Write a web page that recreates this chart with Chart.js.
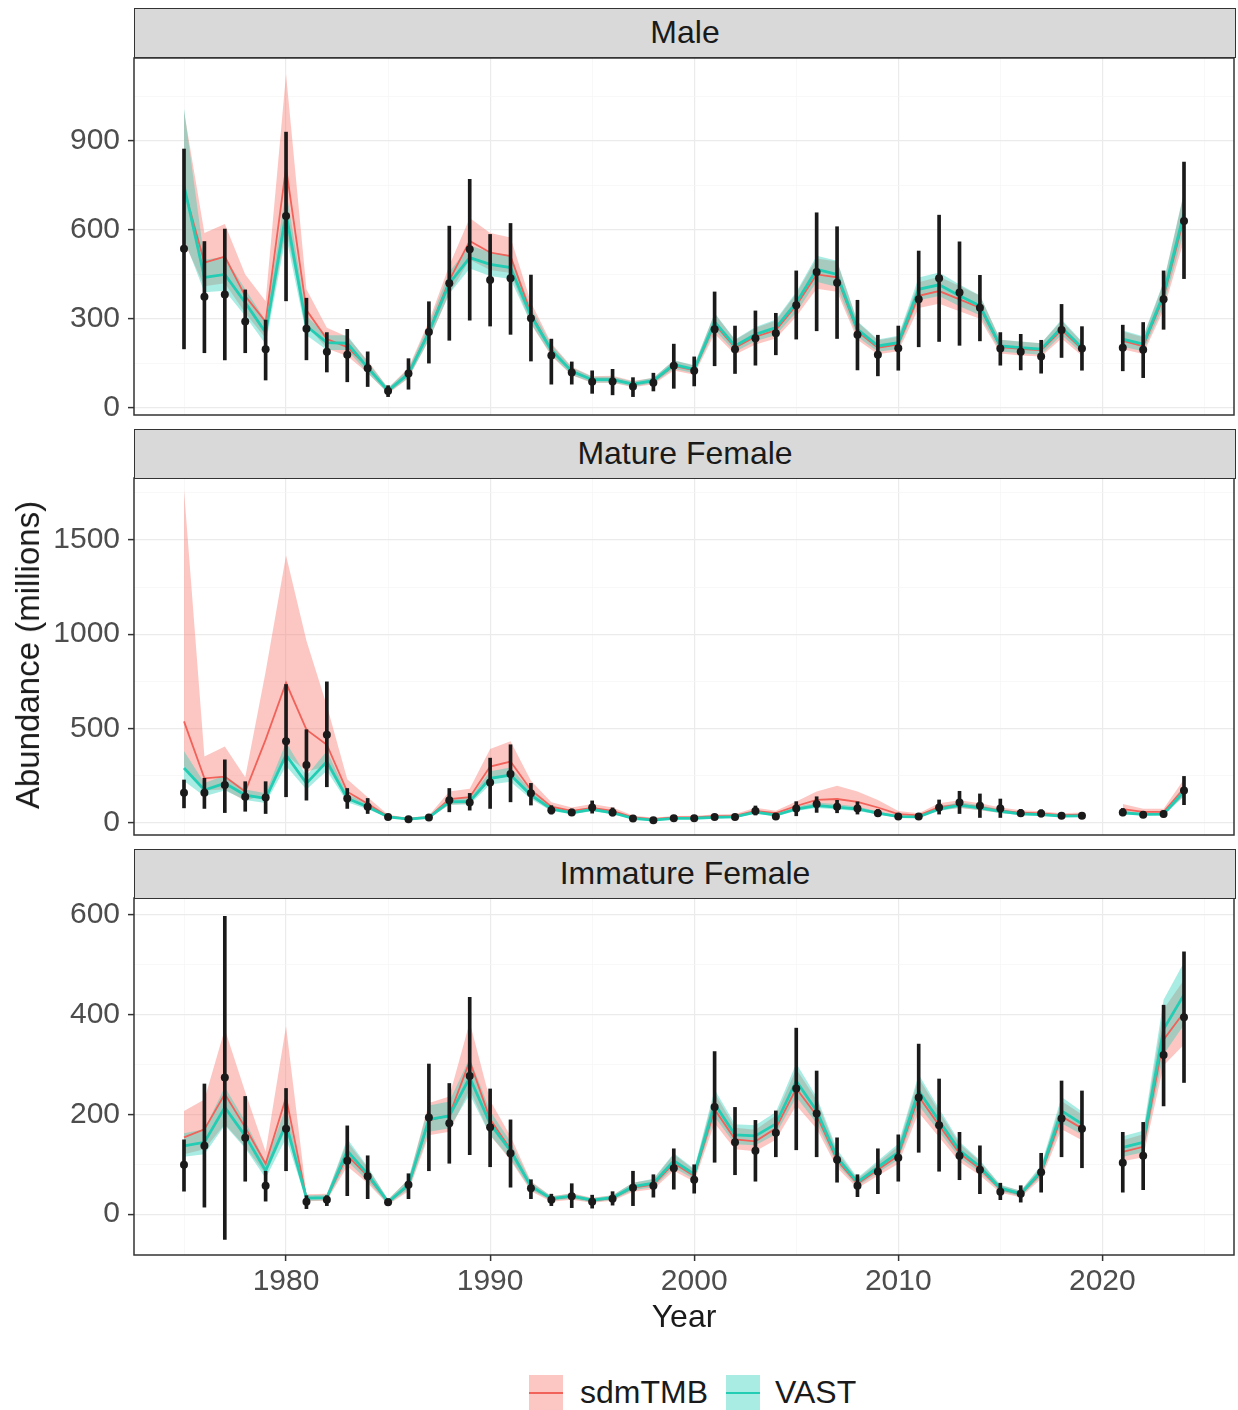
<!DOCTYPE html>
<html>
<head>
<meta charset="utf-8">
<script src="https://cdn.jsdelivr.net/npm/chart.js@4/dist/chart.umd.min.js"></script>
<style>
  html, body { margin: 0; padding: 0; background: #fff; }
  body { width: 1238px; height: 1410px; position: relative; overflow: hidden;
         font-family: "Liberation Sans", Arial, sans-serif; }
  canvas { position: absolute; left: 0; }
  .strip { position: absolute; left: 134px; width: 1102px; height: 50px; box-sizing: border-box;
           background: #D9D9D9; border: 1.5px solid #333; color: #1A1A1A; font-size: 32px;
           text-align: center; line-height: 47px; }
  .ytitle { position: absolute; left: 28px; top: 655px; transform: translate(-50%, -50%) rotate(-90deg);
            font-size: 33px; color: #1A1A1A; white-space: nowrap; }
  .key { position: absolute; top: 1375px; width: 34px; height: 36px; }
  .key i { position: absolute; left: 0; right: 0; top: 17px; height: 2px; }
  .ltxt { position: absolute; top: 1373px; font-size: 32px; color: #1A1A1A; line-height: 38px; }
</style>
</head>
<body>
<canvas id="c1" width="1238" height="407" style="top:33px"></canvas>
<canvas id="c2" width="1238" height="407" style="top:453px"></canvas>
<canvas id="c3" width="1238" height="472" style="top:873px"></canvas>

<div class="strip" style="top:8px">Male</div>
<div class="strip" style="top:429px">Mature Female</div>
<div class="strip" style="top:849px">Immature Female</div>
<div class="ytitle">Abundance (millions)</div>

<div class="key" style="left:529px;background:rgba(248,118,109,0.42)"><i style="background:#F0625A"></i></div>
<div class="ltxt" style="left:580px">sdmTMB</div>
<div class="key" style="left:726px;background:rgba(40,208,185,0.40)"><i style="background:#22CDB4"></i></div>
<div class="ltxt" style="left:775px">VAST</div>

<script>
// ---------------- DATA ----------------
const years = [1975,1976,1977,1978,1979,1980,1981,1982,1983,1984,
               1985,1986,1987,1988,1989,1990,1991,1992,1993,1994,
               1995,1996,1997,1998,1999,2000,2001,2002,2003,2004,
               2005,2006,2007,2008,2009,2010,2011,2012,2013,2014,
               2015,2016,2017,2018,2019,2020,2021,2022,2023,2024];

const xMajorTicks = [1980,1990,2000,2010,2020];
const xMinorTicks = [1975,1985,1995,2005,2015,2025];

// Male
const maleObs   = [537,375,382,291,198,647,267,189,179,134, 57,116,256,420,535,431,437,302,177,119, 88,89,72,85,142,125,265,198,235,252, 346,458,422,247,179,201,366,437,389,338, 200,189,173,263,200,null,203,196,366,630];
const maleObsLo = [199,186,162,186,94,361,162,121,88,72, 38,63,151,228,296,276,248,158,80,80, 49,44,38,57,66,74,142,116,144,179, 232,260,234,128,108,127,206,224,211,226, 144,128,117,170,127,null,125,102,265,436];
const maleObsHi = [873,561,603,398,296,930,370,254,265,189, 75,166,358,613,771,585,622,448,232,155, 125,130,102,117,215,172,391,276,327,319, 462,658,611,363,245,276,529,650,560,447, 254,248,228,349,274,null,279,288,462,829];
const maleVast   = [750,440,450,355,254,655,276,220,218,136, 58,115,255,420,507,484,473,310,195,123, 95,95,80,92,146,130,290,209,248,271, 355,467,450,265,209,220,400,415,378,344, 209,203,198,271,203,null,232,215,383,658];
const maleVastLo = [570,390,395,310,215,580,245,195,195,118, 50,102,230,385,470,445,435,285,178,111, 86,86,72,83,132,117,263,189,225,246, 322,425,408,240,189,199,363,377,343,312, 190,184,179,246,184,null,206,191,345,595];
const maleVastHi = [1010,500,510,400,295,735,310,245,245,155, 67,130,282,458,548,525,515,338,213,136, 105,105,89,102,161,144,320,231,273,298, 391,513,496,292,231,243,440,457,416,379, 230,224,218,298,224,null,261,242,425,727];
const maleSdm   = [740,490,510,377,290,810,330,232,205,138, 57,117,258,430,563,524,512,318,195,124, 95,96,80,90,142,127,282,203,240,262, 345,450,440,258,203,214,378,394,366,338, 205,199,194,262,198,null,226,208,373,640];
const maleSdmLo = [560,410,420,320,235,600,280,200,175,118, 48,100,228,385,500,465,455,283,175,110, 84,85,70,80,126,112,250,180,214,234, 308,402,392,230,181,191,337,351,326,301, 183,177,173,234,176,null,198,182,330,565];
const maleSdmHi = [1000,590,620,450,360,1125,400,270,240,160, 67,135,292,480,640,590,575,355,218,139, 107,108,91,102,160,143,318,229,269,294, 386,504,494,290,228,240,424,442,411,379, 230,223,218,294,222,null,258,238,422,725];
const maleMajorTicks = [0,300,600,900];
const maleMinorTicks = [150,450,750,1050];

// Mature Female
const matObs   = [158,158,199,137,133,431,306,466,128,84, 30,18,27,119,107,213,258,155,65,54, 80,54,21,12,23,23,29,29,62,32, 75,98,84,75,50,32,32,80,107,89, 75,50,48,36,36,null,54,41,45,170];
const matObsLo = [78,75,53,60,48,137,119,190,75,48, 22,12,20,57,66,75,110,93,45,38, 50,35,15,8,16,16,20,20,40,22, 36,54,52,45,32,20,22,45,48,27, 27,32,30,24,24,null,36,27,30,95];
const matObsHi = [226,235,333,217,217,733,493,747,181,128, 40,25,35,181,155,342,413,208,90,72, 115,78,28,17,31,31,38,38,88,43, 111,137,118,110,70,45,44,120,166,152, 125,70,68,50,50,null,75,57,62,245];
const matSdm   = [537,235,244,164,440,742,493,413,164,100, 32,19,28,125,135,297,324,173,84,62, 78,62,28,18,27,28,34,36,62,50, 88,120,125,110,80,45,38,82,95,82, 64,52,48,40,42,null,71,57,57,180];
const matSdmLo = [300,170,175,115,150,360,270,300,125,75, 25,14,21,95,100,225,250,135,65,48, 62,48,21,13,21,22,27,28,50,40, 70,90,90,80,55,33,29,66,77,66, 51,41,38,32,33,null,55,44,44,140];
const matSdmHi = [1765,351,404,240,800,1418,965,620,230,135, 42,26,37,165,180,390,431,222,108,80, 98,80,37,25,35,36,43,46,78,63, 112,165,196,165,120,62,50,102,118,102, 80,65,60,50,53,null,98,74,74,230];
const matVast   = [290,173,208,146,128,359,208,324,128,84, 30,18,27,110,112,235,252,146,72,52, 70,52,22,13,22,23,28,30,55,40, 72,90,82,72,50,32,30,72,92,78, 60,46,42,34,35,null,52,44,45,165];
const matVastLo = [220,140,170,120,104,300,175,275,108,71, 25,15,23,94,96,202,217,125,61,44, 60,44,18,11,19,20,24,26,47,34, 62,77,70,62,43,27,26,62,79,67, 51,39,36,29,30,null,44,37,38,140];
const matVastHi = [380,210,250,176,155,425,248,380,152,100, 36,22,32,129,131,272,292,170,85,61, 82,61,26,16,26,27,33,35,65,47, 84,106,97,85,59,38,35,85,108,92, 71,54,50,40,41,null,62,52,53,195];
const matMajorTicks = [0,500,1000,1500];
const matMinorTicks = [250,750,1250,1750];

// Immature Female
const immObs   = [99,137,274,153,57,171,25,29,107,76, 24,59,194,182,277,174,122,52,29,36, 25,31,53,57,92,69,215,144,127,163, 252,202,109,57,85,113,234,178,117,89, 45,41,84,192,171,null,103,117,319,395];
const immObsLo = [46,14,-51,66,26,87,11,17,37,31, 17,31,87,102,119,95,54,31,17,13, 12,18,17,34,50,42,104,79,66,115, 129,115,64,35,41,66,124,86,69,41, 29,24,44,115,93,null,44,49,217,264];
const immObsHi = [149,261,597,236,86,252,37,37,177,117, 31,81,301,262,435,251,189,69,40,61, 38,45,86,79,131,99,326,214,188,207, 373,287,153,79,131,159,341,271,164,137, 62,57,122,267,247,null,164,184,419,526];
const immVast   = [137,144,214,157,87,181,32,33,127,80, 24,59,190,197,274,181,127,56,31,36, 28,33,55,62,107,80,221,159,157,181, 267,207,114,64,94,124,247,187,128,95, 52,41,86,207,181,null,134,144,371,440];
const immVastLo = [115,120,178,132,72,152,27,28,106,67, 20,50,165,172,240,158,111,49,27,31, 24,29,48,54,93,70,195,140,138,160, 235,182,100,56,83,109,218,165,113,84, 46,36,76,182,159,null,115,124,320,380];
const immVastHi = [162,170,255,186,104,215,38,39,151,95, 29,70,218,226,313,207,145,64,36,41, 32,38,63,71,122,91,250,180,178,205, 302,235,130,73,107,141,280,212,145,108, 59,47,98,235,206,null,156,167,430,505];
const immSdm   = [154,170,241,174,101,234,32,33,118,76, 24,57,188,198,307,190,130,55,30,35, 27,32,53,59,102,76,210,150,146,172, 252,198,108,61,89,117,236,178,122,91, 50,40,82,196,172,null,125,135,350,405];
const immSdmLo = [120,130,180,135,80,170,26,27,96,62, 19,46,158,165,250,158,108,46,25,29, 23,27,45,50,87,65,182,130,126,149, 218,171,93,52,77,101,204,154,105,78, 43,34,71,170,148,null,106,114,298,340];
const immSdmHi = [207,230,371,245,125,377,40,41,145,93, 30,70,223,236,385,228,156,66,36,42, 33,38,63,70,120,89,243,173,169,198, 291,229,125,71,103,136,273,206,141,106, 58,47,95,227,200,null,148,160,411,470];
const immMajorTicks = [0,200,400,600];
const immMinorTicks = [100,300,500];

// ---------------- STYLE ----------------
const RED = '#F0625A', RED_FILL = 'rgba(248,118,109,0.42)';
const TEAL = '#22CDB4', TEAL_FILL = 'rgba(40,208,185,0.40)';
const INK = '#1A1A1A';
const FONT = '"Liberation Sans", Arial, sans-serif';

const pts = arr => years.map((x, i) => ({ x, y: arr[i] }));
const bars = (lo, hi) => years.map((x, i) => ({ x, y: (lo[i] == null ? null : [lo[i], hi[i]]) }));

const panelBorder = {
  id: 'panelBorder',
  afterDraw(chart) {
    const { ctx, chartArea: a } = chart;
    ctx.save();
    ctx.strokeStyle = '#333';
    ctx.lineWidth = 1.5;
    ctx.strokeRect(a.left, a.top, a.right - a.left, a.bottom - a.top);
    ctx.restore();
  }
};

function gridOpts(majors, drawTicks) {
  return {
    offset: false,
    color: c => majors.includes(c.tick && c.tick.value) ? '#EBEBEB' : '#F5F5F5',
    lineWidth: c => majors.includes(c.tick && c.tick.value) ? 1.2 : 0.7,
    drawTicks: drawTicks,
    tickLength: 6,
    tickColor: c => majors.includes(c.tick && c.tick.value) ? '#333' : 'rgba(0,0,0,0)',
    tickWidth: 1.5
  };
}

function makePanel(id, d, bottom) {
  const ribbon = (arr, fill, color, order) => ({
    type: 'line', data: pts(arr), fill: fill, backgroundColor: color,
    borderColor: 'rgba(0,0,0,0)', borderWidth: 0, pointRadius: 0, spanGaps: false, tension: 0, order
  });
  const datasets = [
    { type: 'line', data: pts(d.obs), showLine: false, pointRadius: 4, pointBackgroundColor: INK,
      pointBorderWidth: 0, order: -1 },
    { type: 'bar', data: bars(d.lo, d.hi), backgroundColor: INK, barThickness: 3, order: 0 },
    { type: 'line', data: pts(d.vast), borderColor: TEAL, borderWidth: 2.8, pointRadius: 0,
      spanGaps: false, tension: 0, fill: false, order: 1 },
    { type: 'line', data: pts(d.sdm), borderColor: RED, borderWidth: 1.8, pointRadius: 0,
      spanGaps: false, tension: 0, fill: false, order: 2 },
    ribbon(d.vastHi, '+1', TEAL_FILL, 3),
    ribbon(d.vastLo, false, 'rgba(0,0,0,0)', 3),
    ribbon(d.sdmHi, '+1', RED_FILL, 4),
    ribbon(d.sdmLo, false, 'rgba(0,0,0,0)', 4)
  ];
  const allY = d.majors.concat(d.minors).sort((a, b) => a - b);
  const allX = xMajorTicks.concat(xMinorTicks).sort((a, b) => a - b);
  new Chart(document.getElementById(id), {
    type: 'line',
    data: { datasets },
    options: {
      responsive: false, animation: false, events: [],
      layout: { padding: { left: 0, right: 2, top: 25, bottom: bottom ? 8 : 25 } },
      plugins: { legend: { display: false }, tooltip: { enabled: false }, title: { display: false } },
      scales: {
        x: {
          type: 'linear', min: 1972.55, max: 2026.45, offset: false,
          afterBuildTicks: s => { s.ticks = allX.map(v => ({ value: v })); },
          afterFit: s => { s.height = bottom ? 82 : 0; s.paddingLeft = 0; s.paddingRight = 0; },
          grid: gridOpts(xMajorTicks, bottom),
          border: { display: false },
          ticks: {
            display: bottom, autoSkip: false, maxRotation: 0, padding: 3,
            color: '#4D4D4D', font: { family: FONT, size: 30 },
            callback: v => xMajorTicks.includes(v) ? String(v) : ''
          },
          title: { display: bottom, text: 'Year', color: INK, font: { family: FONT, size: 32 },
                   padding: { top: 0, bottom: 0 } }
        },
        y: {
          type: 'linear', min: d.min, max: d.max,
          afterBuildTicks: s => { s.ticks = allY.map(v => ({ value: v })); },
          afterFit: s => { s.width = 134; s.paddingTop = 0; s.paddingBottom = 0; },
          grid: gridOpts(d.majors, true),
          border: { display: false },
          ticks: {
            autoSkip: false, padding: 8, color: '#4D4D4D', font: { family: FONT, size: 30 },
            callback: v => d.majors.includes(v) ? String(v) : ''
          }
        }
      }
    },
    plugins: [panelBorder]
  });
}

makePanel('c1', { obs: maleObs, lo: maleObsLo, hi: maleObsHi, vast: maleVast, vastLo: maleVastLo, vastHi: maleVastHi,
  sdm: maleSdm, sdmLo: maleSdmLo, sdmHi: maleSdmHi, majors: maleMajorTicks, minors: maleMinorTicks, min: -24, max: 1180 }, false);
makePanel('c2', { obs: matObs, lo: matObsLo, hi: matObsHi, vast: matVast, vastLo: matVastLo, vastHi: matVastHi,
  sdm: matSdm, sdmLo: matSdmLo, sdmHi: matSdmHi, majors: matMajorTicks, minors: matMinorTicks, min: -66, max: 1829 }, false);
makePanel('c3', { obs: immObs, lo: immObsLo, hi: immObsHi, vast: immVast, vastLo: immVastLo, vastHi: immVastHi,
  sdm: immSdm, sdmLo: immSdmLo, sdmHi: immSdmHi, majors: immMajorTicks, minors: immMinorTicks, min: -82, max: 634 }, true);
</script>
</body>
</html>
